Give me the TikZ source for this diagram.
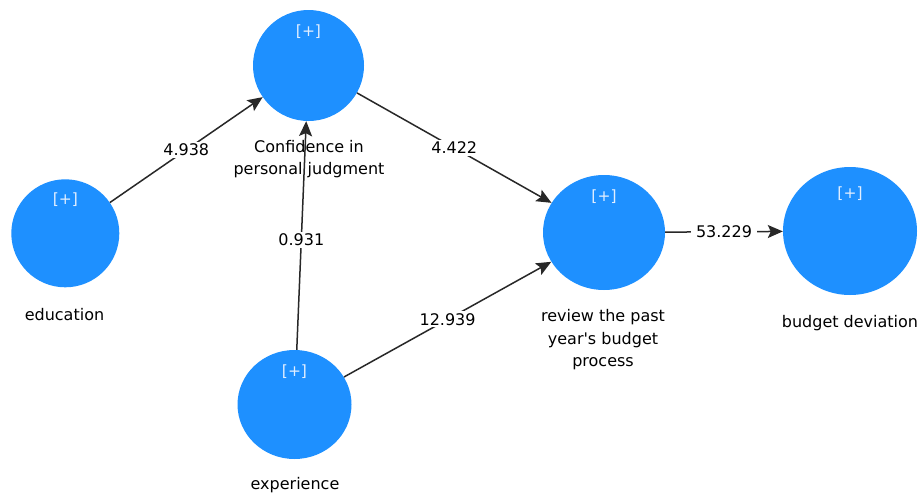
\documentclass[tikz,border=0pt]{standalone}
\usepackage{fontspec}
\setmainfont{DejaVu Sans}
\usetikzlibrary{shapes.geometric,arrows.meta}
\definecolor{nodeblue}{RGB}{30,144,255}
\definecolor{edgegray}{RGB}{40,40,40}
\definecolor{plustext}{RGB}{225,238,255}
\begin{document}
\begin{tikzpicture}[x=1pt,y=-1pt,
  lv/.style={ellipse,fill=nodeblue,draw=none,inner sep=0pt},
  plus/.style={text=plustext,font=\fontsize{15.5}{15.5}\selectfont,inner sep=0pt},
  vlabel/.style={font=\fontsize{16}{22.5}\selectfont,align=center,text=black,inner sep=0pt},
  conn/.style={draw=edgegray,line width=1.5pt,-{Stealth[length=15pt,width=13pt,inset=3pt]}},
  coef/.style={fill=white,inner xsep=5pt,inner ysep=2pt,font=\fontsize{16}{16}\selectfont,text=black}]
\useasboundingbox[fill=white] (0,0) rectangle (921,493);

% latent variables
\node[lv,minimum width=111pt,minimum height=111pt] (conf) at (308.5,65.5) {};
\node[lv,minimum width=108pt,minimum height=108pt] (edu) at (65.3,233.3) {};
\node[lv,minimum width=114pt,minimum height=109pt] (exp) at (294.5,404.5) {};
\node[lv,minimum width=122pt,minimum height=115pt] (rev) at (604,232.5) {};
\node[lv,minimum width=134pt,minimum height=128pt] (bud) at (850,231) {};

% [+] markers
\node[plus] (confp) at (308.5,31.7) {[+]};
\node[plus] (edup) at (65.3,200) {[+]};
\node[plus] (expp) at (294.5,371.7) {[+]};
\node[plus] (revp) at (604,196.7) {[+]};
\node[plus] (budp) at (850,193.3) {[+]};

% paths
\draw[conn] (edu) -- node[coef] {4.938} (conf);
\draw[conn] (conf) -- node[coef] {4.422} (rev);
\draw[conn] (exp) -- node[coef,pos=0.48] {0.931} (conf);
\draw[conn] (exp) -- node[coef] {12.939} (rev);
\draw[conn] (rev) -- node[coef] {53.229} (bud);

% labels
\node[vlabel] (confl) at (309,159) {Confidence in\\personal judgment};
\node[vlabel] (edul) at (64.5,315) {education};
\node[vlabel] (expl) at (295,485) {experience};
\node[vlabel] (revl) at (603,340) {review the past\\year\textquotesingle s budget\\process};
\node[vlabel] (budl) at (850,323) {budget deviation};
\end{tikzpicture}
\end{document}
